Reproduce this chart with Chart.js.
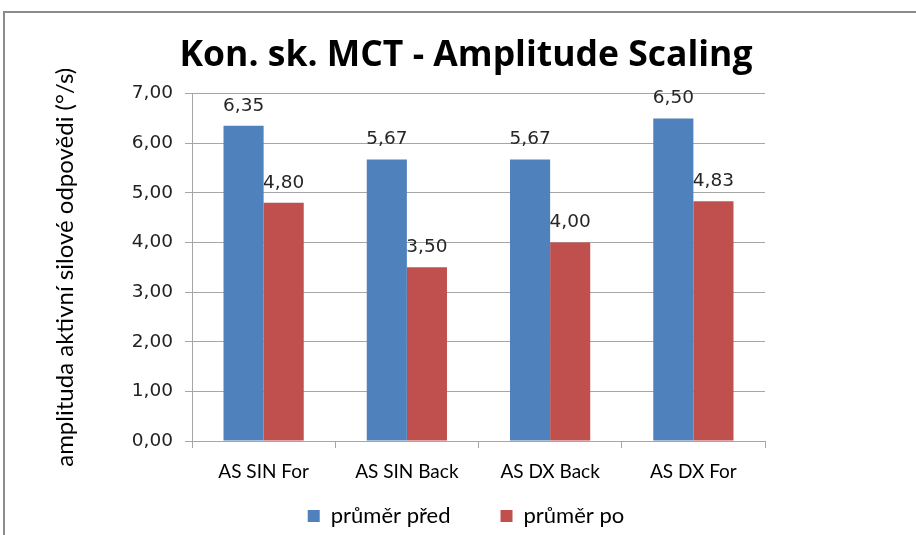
<!DOCTYPE html>
<html>
<head>
<meta charset="utf-8">
<script src="https://cdn.jsdelivr.net/npm/chart.js@4"></script>
<style>
  html, body { margin: 0; padding: 0; background: #ffffff; }
  #wrap { position: relative; width: 916px; height: 535px; }
  canvas { display: block; }
</style>
</head>
<body>
<div id="wrap"><canvas id="c" width="916" height="535"></canvas></div>
<script>
const categories = ['AS SIN For', 'AS SIN Back', 'AS DX Back', 'AS DX For'];
const seriesNames = ['průměr před', 'průměr po'];
const prumerPred = [6.35, 5.67, 5.67, 6.50];
const prumerPo = [4.80, 3.50, 4.00, 4.83];
const yTicks = [0, 1, 2, 3, 4, 5, 6, 7];

const fmt = v => v.toFixed(2).replace('.', ',');
const gridGray = '#a6a6a6';
const numFont = '"DejaVu Sans"';

// frame line along the top and left edges of the chart box
const framePlugin = {
  id: 'frame',
  beforeDraw(chart) {
    const ctx = chart.ctx;
    ctx.save();
    ctx.fillStyle = '#ffffff';
    ctx.fillRect(0, 0, chart.width, chart.height);
    ctx.strokeStyle = '#8c8c8c';
    ctx.lineWidth = 2;
    ctx.beginPath();
    ctx.moveTo(4, chart.height);
    ctx.lineTo(4, 12);
    ctx.lineTo(chart.width, 12);
    ctx.stroke();
    ctx.restore();
  }
};

// value labels above each bar
const valueLabels = {
  id: 'valueLabels',
  afterDatasetsDraw(chart) {
    const ctx = chart.ctx;
    ctx.save();
    ctx.font = '18.5px ' + numFont;
    ctx.fillStyle = '#262626';
    ctx.textAlign = 'center';
    ctx.textBaseline = 'middle';
    chart.data.datasets.forEach((ds, i) => {
      chart.getDatasetMeta(i).data.forEach((el, j) => {
        ctx.fillText(fmt(ds.data[j]), el.x, el.y - 20);
      });
    });
    ctx.restore();
  }
};

new Chart(document.getElementById('c'), {
  type: 'bar',
  data: {
    labels: categories,
    datasets: [
      { label: seriesNames[0], data: prumerPred, backgroundColor: '#4F81BD' },
      { label: seriesNames[1], data: prumerPo, backgroundColor: '#C0504D' }
    ]
  },
  options: {
    responsive: false,
    animation: false,
    events: [],
    categoryPercentage: 0.56,
    barPercentage: 1.0,
    layout: { padding: { left: 16, right: 0, top: 0, bottom: 0 } },
    plugins: {
      title: {
        display: true,
        text: 'Kon. sk. MCT - Amplitude Scaling',
        color: '#000000',
        font: { family: '"Open Sans"', size: 35.5, weight: 'bold', lineHeight: 1.2 },
        padding: { top: 35, bottom: 16 }
      },
      legend: {
        position: 'bottom',
        maxHeight: 80,
        labels: {
          color: '#000000',
          font: { family: 'Lato', size: 22 },
          boxWidth: 12,
          boxHeight: 12,
          padding: 50
        }
      },
      tooltip: { enabled: false }
    },
    scales: {
      x: {
        grid: { display: true, drawOnChartArea: false, color: gridGray, tickLength: 7, offset: true },
        border: { color: gridGray },
        ticks: { color: '#000000', font: { family: 'Lato', size: 19 }, padding: 12 },
        afterFit(scale) {
          // keep the axis band thin; the category names hang below it
          scale.height = 14;
          scale._computeLabelArea = () => undefined;
        }
      },
      y: {
        min: 0,
        max: 7,
        afterBuildTicks(scale) { scale.ticks = yTicks.map(v => ({ value: v })); },
        grid: { color: gridGray, tickLength: 7 },
        border: { color: gridGray },
        ticks: {
          color: '#222222',
          font: { family: numFont, size: 18.5 },
          padding: 12,
          callback: v => fmt(v)
        },
        title: {
          display: true,
          text: 'amplituda aktivní silové odpovědi (°/s)',
          color: '#000000',
          font: { family: 'Lato', size: 24, lineHeight: 1.2 },
          padding: { top: 35, bottom: 0 }
        },
        afterFit(scale) { scale.width = 176; }
      },
      yRight: {
        position: 'right',
        min: 0,
        max: 7,
        display: true,
        grid: { display: false },
        border: { display: false },
        ticks: { display: false },
        afterFit(scale) { scale.width = 151; }
      }
    }
  },
  plugins: [framePlugin, valueLabels]
});
</script>
</body>
</html>
